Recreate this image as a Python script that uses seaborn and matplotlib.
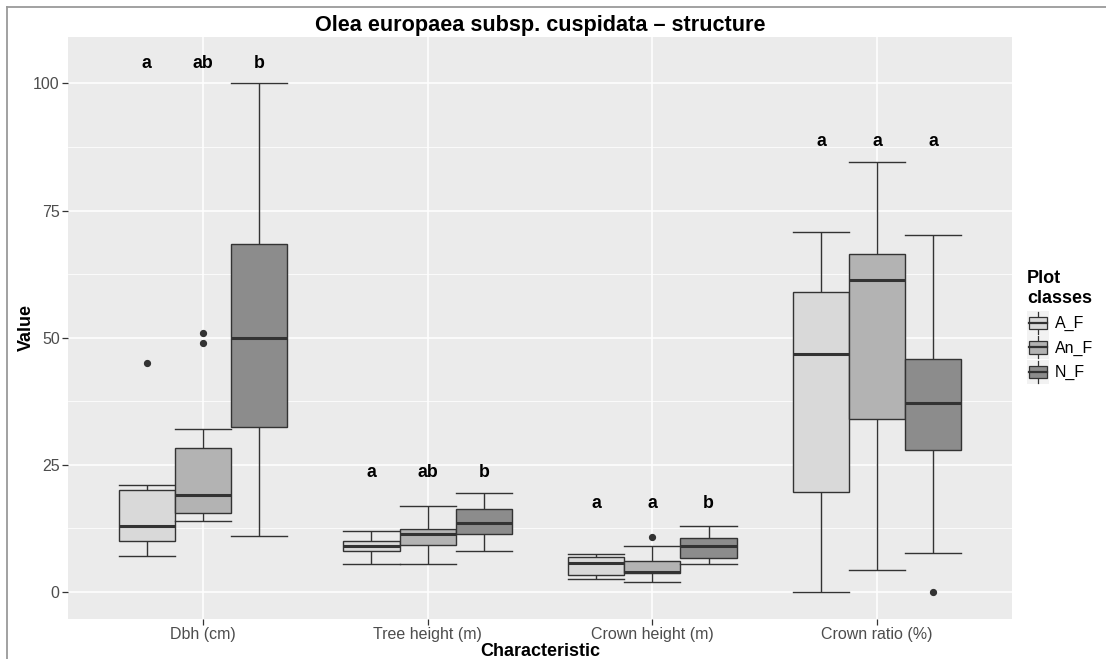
import numpy as np
import pandas as pd
import matplotlib
matplotlib.use("Agg")
import matplotlib.pyplot as plt
from matplotlib.legend_handler import HandlerBase
from matplotlib.patches import Rectangle
from matplotlib.lines import Line2D
import seaborn as sns

# Categories
characteristics = ["Dbh (cm)", "Tree height (m)", "Crown height (m)", "Crown ratio (%)"]
plot_classes = ["A_F", "An_F", "N_F"]

# Observations per characteristic and plot class
dbh_A_F = [7, 9, 10, 12, 13, 16, 20, 21, 45]
dbh_An_F = [14, 15, 15.2, 15.5, 17, 18, 19, 22, 25, 28.4, 32, 49, 51]
dbh_N_F = [11, 25, 32.4, 42, 50, 60, 68.4, 85, 100]

tree_height_A_F = [5.5, 7, 8, 8.5, 9, 9.5, 10, 11, 12]
tree_height_An_F = [5.5, 8, 9.2, 10.5, 11.5, 12, 12.4, 15, 17]
tree_height_N_F = [8, 10, 11.5, 12.5, 13.5, 15, 16.4, 18, 19.5]

crown_height_A_F = [2.5, 3, 3.3, 4.5, 5.8, 6.5, 6.9, 7.2, 7.5]
crown_height_An_F = [2, 3.5, 3.8, 3.9, 4.0, 5, 6, 9, 10.9]
crown_height_N_F = [5.5, 6, 6.7, 8, 9, 10, 10.7, 12, 13]

crown_ratio_A_F = [0, 10, 19.6, 35, 46.9, 53, 59, 65, 70.8]
crown_ratio_An_F = [4.4, 20, 34.1, 50, 61.3, 63, 66.5, 75, 84.5]
crown_ratio_N_F = [0, 7.7, 27.9, 33, 37.2, 41, 45.8, 55, 70.2]

# Significance letters (one per plot class) and the height they are written at
letters_dbh = ["a", "ab", "b"]
letters_tree_height = ["a", "ab", "b"]
letters_crown_height = ["a", "a", "b"]
letters_crown_ratio = ["a", "a", "a"]
letter_heights = [104, 23.5, 17.5, 88.5]

y_ticks = [0, 25, 50, 75, 100]

# ---------------------------------------------------------------------------
groups = [
    [dbh_A_F, dbh_An_F, dbh_N_F],
    [tree_height_A_F, tree_height_An_F, tree_height_N_F],
    [crown_height_A_F, crown_height_An_F, crown_height_N_F],
    [crown_ratio_A_F, crown_ratio_An_F, crown_ratio_N_F],
]
rows = []
for char, per_class in zip(characteristics, groups):
    for cls, values in zip(plot_classes, per_class):
        for v in values:
            rows.append((char, cls, v))
df = pd.DataFrame(rows, columns=["Characteristic", "Plot classes", "Value"])
letter_sets = [letters_dbh, letters_tree_height, letters_crown_height, letters_crown_ratio]

fill_colors = {"A_F": "#D9D9D9", "An_F": "#B3B3B3", "N_F": "#8C8C8C"}
edge = "#333333"

plt.rcParams["font.family"] = ["Liberation Sans", "DejaVu Sans"]

W, H = 1106, 659
fig = plt.figure(figsize=(W / 100, H / 100), dpi=100)
fig.patch.set_facecolor("white")
ax = fig.add_axes([68 / W, 1 - 618.7 / H, (1012 - 68) / W, (618.7 - 36.7) / H])
ax.set_facecolor("#EBEBEB")

box_w = 0.75
sns.boxplot(
    data=df, x="Characteristic", y="Value", hue="Plot classes",
    order=characteristics, hue_order=plot_classes, palette=fill_colors,
    width=box_w, gap=0, saturation=1, linecolor=edge, linewidth=1.0,
    whis=1.5, fliersize=4.2, capwidths=box_w / 3,
    medianprops=dict(linewidth=2.2, color=edge),
    flierprops=dict(marker="o", markerfacecolor=edge, markeredgecolor=edge),
    ax=ax, zorder=3,
)

# Significance letters above each box
for i, (labels, yv) in enumerate(zip(letter_sets, letter_heights)):
    for j, lab in enumerate(labels):
        ax.text(i + (j - 1) * box_w / 3, yv, lab, ha="center", va="center",
                fontsize=12.8, fontweight="bold", color="black", zorder=5)

# ggplot-like grid
ax.set_ylim(-5.25, 109.2)
ax.set_xlim(-0.6, 3.6)
ax.set_yticks(y_ticks)
ax.set_yticks([12.5, 37.5, 62.5, 87.5], minor=True)
ax.grid(True, which="major", color="white", linewidth=1.1, zorder=0)
ax.grid(True, which="minor", axis="y", color="white", linewidth=0.55, zorder=0)
ax.set_axisbelow(True)
for s in ax.spines.values():
    s.set_visible(False)
ax.tick_params(axis="both", which="major", length=4, width=0.9, color=edge,
               labelsize=11.5, labelcolor="#4D4D4D", pad=2)
ax.tick_params(axis="y", which="minor", length=0)

ax.set_xlabel("Characteristic", fontsize=13, fontweight="bold", labelpad=1)
ax.set_ylabel("Value", fontsize=13, fontweight="bold", labelpad=-1)
ax.set_title("Olea europaea subsp. cuspidata \u2013 structure", fontsize=15.6,
             fontweight="bold", pad=4)


# Legend keys drawn as small boxplots
class BoxKeyHandler(HandlerBase):
    def create_artists(self, legend, orig_handle, xdescent, ydescent,
                       width, height, fontsize, trans):
        x0, y0 = -xdescent, -ydescent
        bg = Rectangle((x0, y0), width, height, facecolor="#F2F2F2",
                       edgecolor="none", transform=trans)
        cx = x0 + width / 2
        wh = Line2D([cx, cx], [y0 + height * 0.04, y0 + height * 0.96],
                    color=edge, lw=0.9, transform=trans)
        bx = Rectangle((x0 + width * 0.1, y0 + height * 0.24), width * 0.8,
                       height * 0.52, facecolor=orig_handle.get_facecolor(),
                       edgecolor=edge, lw=0.9, transform=trans)
        md = Line2D([x0 + width * 0.1, x0 + width * 0.9],
                    [y0 + height / 2, y0 + height / 2], color=edge, lw=1.6,
                    transform=trans)
        return [bg, wh, bx, md]


old = ax.get_legend()
handles = list(old.legend_handles)
labels = [t.get_text() for t in old.get_texts()]
old.remove()
leg = fig.legend(
    handles, labels, title="Plot\nclasses",
    handler_map={type(h): BoxKeyHandler() for h in handles},
    loc="upper left", bbox_to_anchor=(1027 / W, 1 - 270 / H),
    frameon=False, fontsize=11.5, borderpad=0, borderaxespad=0,
    handlelength=1.4, handleheight=1.95, labelspacing=0.02,
    handletextpad=0.35, alignment="left",
    title_fontproperties={"weight": "bold", "size": 13},
)
leg._legend_box.sep = 3

# Outer frame
fig.add_artist(Line2D([7 / W, 1], [1 - 7 / H, 1 - 7 / H], transform=fig.transFigure,
                      color="#9A9A9A", lw=1.3))
fig.add_artist(Line2D([7 / W, 7 / W], [0, 1 - 7 / H], transform=fig.transFigure,
                      color="#9A9A9A", lw=1.3))

fig.savefig("out.png", dpi=100)
